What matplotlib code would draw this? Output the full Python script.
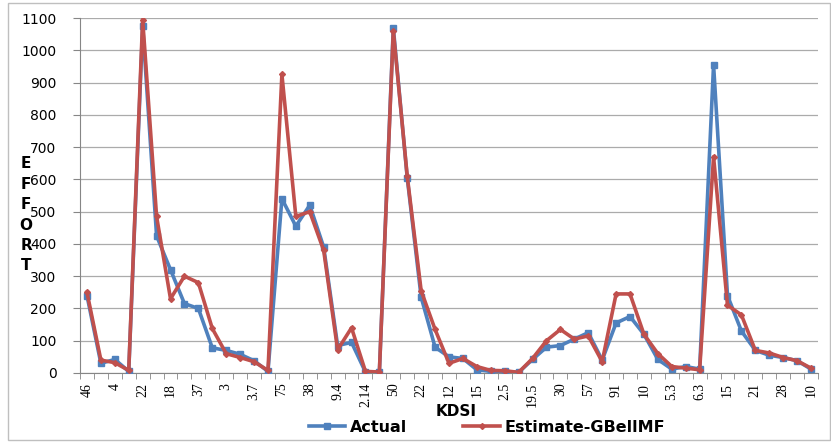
import numpy as np
import matplotlib
matplotlib.use("Agg")
import matplotlib.pyplot as plt

# KDSI labels shown on the axis (every second category is labelled)
kdsi_labels = ['46', '4', '22', '18', '37', '3', '3.7', '75', '38', '9.4', '2.14',
               '50', '22', '12', '15', '2.5', '19.5', '30', '57', '91', '10',
               '5.3', '6.3', '15', '21', '28', '10']

actual = [240, 30, 42, 5, 1075, 425, 320, 215, 200, 78,
          70, 58, 38, 5, 540, 455, 520, 390, 85, 95,
          3, 2, 1070, 605, 235, 80, 50, 45, 10, 5,
          5, 2, 42, 80, 85, 105, 125, 40, 155, 175,
          120, 42, 12, 20, 12, 955, 240, 130, 70, 55,
          48, 38, 12]

estimate = [250, 40, 32, 8, 1095, 485, 230, 300, 280, 138,
            60, 48, 35, 8, 925, 485, 500, 380, 72, 140,
            5, 3, 1060, 610, 255, 135, 30, 45, 20, 8,
            7, 2, 45, 100, 135, 105, 115, 35, 245, 245,
            120, 60, 20, 15, 10, 670, 210, 180, 70, 62,
            48, 38, 15]

n = len(actual)
x = np.arange(n)

fig = plt.figure(figsize=(8.31, 4.43), dpi=100)
ax = fig.add_axes([80 / 831, 70 / 443, 738 / 831, 355 / 443])

ax.plot(x, actual, color='#4F81BD', lw=2.6, marker='s', ms=4, label='Actual', zorder=3)
ax.plot(x, estimate, color='#C0504D', lw=2.6, marker='D', ms=3, label='Estimate-GBellMF', zorder=4)

ax.set_xlim(-0.5, n - 0.5)
ax.set_ylim(0, 1100)
ax.set_yticks(np.arange(0, 1101, 100))
ax.yaxis.grid(True, color='#ABABAB', lw=0.9)
ax.set_axisbelow(True)

ax.set_xticks(x[::2])
ax.set_xticklabels(kdsi_labels, rotation=90, family='Liberation Serif', fontsize=10)
ax.set_xticks(np.arange(-0.5, n, 1), minor=True)
ax.tick_params(axis='x', which='major', length=0, pad=7)
ax.tick_params(axis='x', which='minor', length=4, color='#868686')
ax.tick_params(axis='y', length=5, color='#868686', labelsize=10, pad=12)
for lab in ax.get_yticklabels():
    lab.set_family('DejaVu Sans')

for s in ['top', 'right']:
    ax.spines[s].set_visible(False)
ax.spines['left'].set_color('#868686')
ax.spines['bottom'].set_color('#868686')

fig.text(456 / 831, 1 - 411 / 443, 'KDSI', ha='center', va='center', fontsize=11, fontweight='bold')
fig.text(26 / 831, 1 - 215 / 443, 'E\nF\nF\nO\nR\nT', ha='center', va='center',
         fontsize=11, fontweight='bold', linespacing=1.45)

ax.legend(loc='lower center', bbox_to_anchor=(487 / 831, 0.0), bbox_transform=fig.transFigure,
          ncol=2, frameon=False, prop={'weight': 'bold', 'size': 11.5},
          handlelength=2.3, handletextpad=0.3, columnspacing=3.5, borderaxespad=0.1)

border = plt.Rectangle((8 / 831, 3 / 443), 822 / 831, 437 / 443, transform=fig.transFigure,
                       fill=False, edgecolor='#BFBFBF', lw=1)
fig.patches.append(border)

fig.savefig('out.png', dpi=100)
